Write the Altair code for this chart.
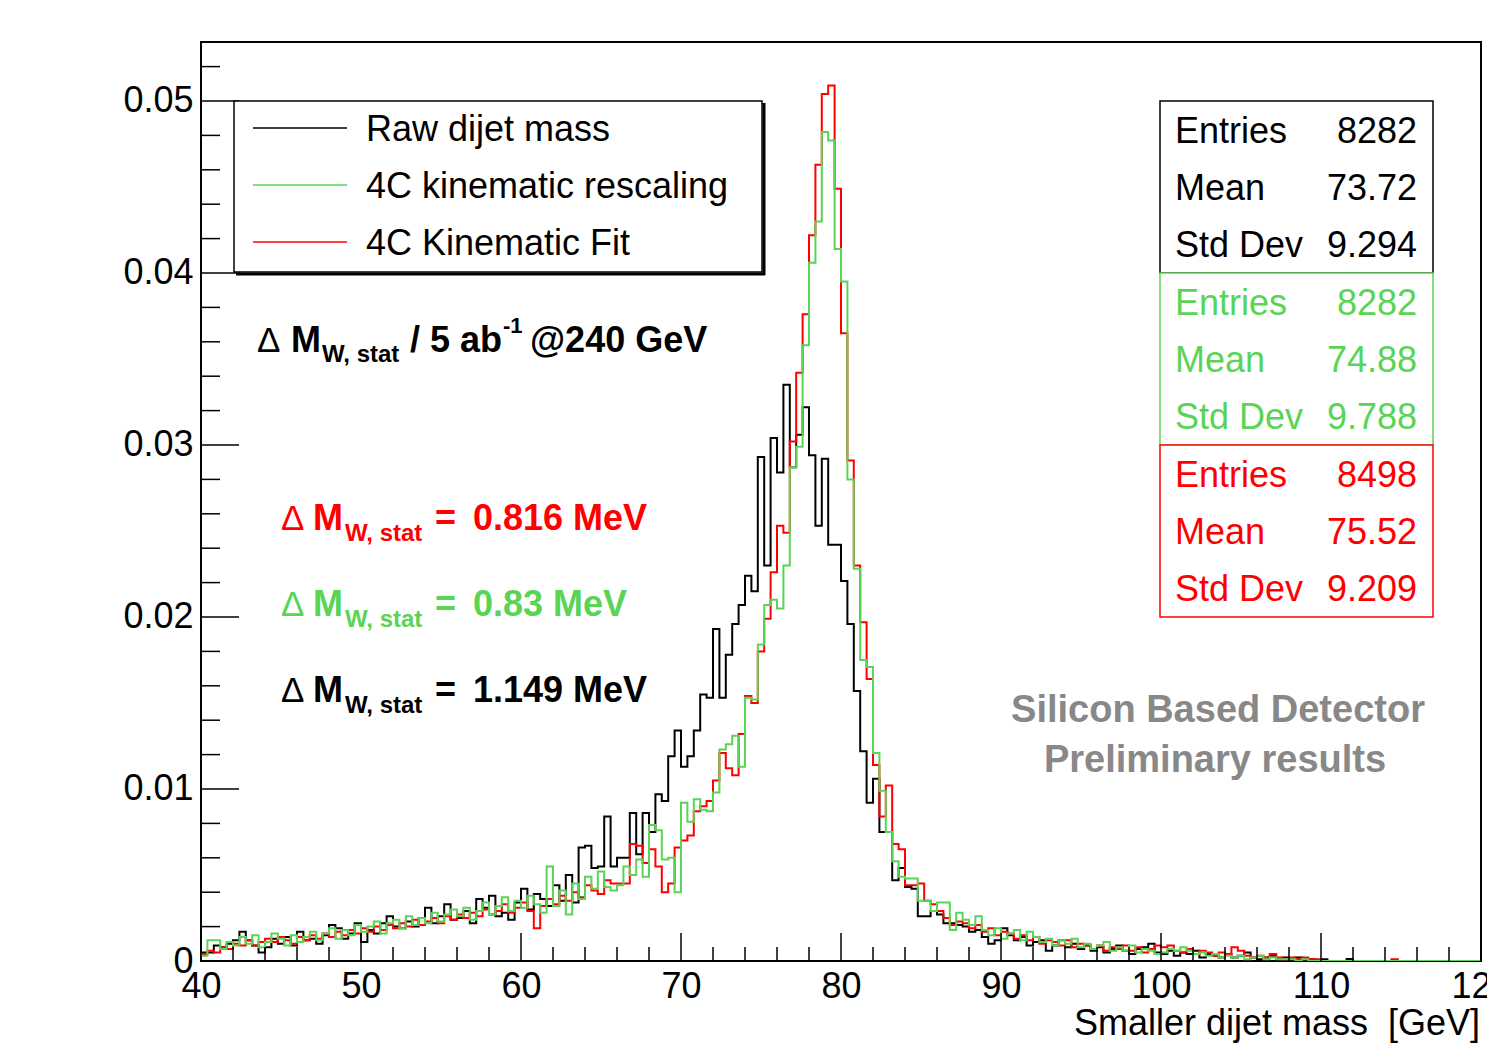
import altair as alt
import pandas as pd

# ---------------------------------------------------------------------------
# Histogram contents: smaller dijet mass, 200 bins of 0.4 GeV from 40 to 120 GeV
# (normalised bin contents)
# ---------------------------------------------------------------------------
X_MIN, X_MAX, N_BINS = 40.0, 120.0, 200

raw_mass = [
    # 40 - 44
    0.0005, 0.0005, 0.0009, 0.0008, 0.0010, 0.0012, 0.0017, 0.0012, 0.0009, 0.0005,
    # 44 - 48
    0.0008, 0.0013, 0.0010, 0.0014, 0.0009, 0.0017, 0.0012, 0.0013, 0.0010, 0.0015,
    # 48 - 52
    0.0021, 0.0019, 0.0013, 0.0016, 0.0022, 0.0011, 0.0018, 0.0016, 0.0022, 0.0026,
    # 52 - 56
    0.0020, 0.0019, 0.0023, 0.0020, 0.0025, 0.0031, 0.0022, 0.0026, 0.0033, 0.0024,
    # 56 - 60
    0.0025, 0.0029, 0.0022, 0.0036, 0.0031, 0.0038, 0.0026, 0.0028, 0.0024, 0.0034,
    # 60 - 64.8
    0.0042, 0.0030, 0.0039, 0.0036, 0.0032, 0.0044, 0.0035, 0.0050, 0.0034, 0.0066,
    0.0067, 0.0054,
    # 64.8 - 69.2
    0.0055, 0.0084, 0.0055, 0.0060, 0.0060, 0.0086, 0.0062, 0.0086, 0.0075, 0.0097,
    0.0093,
    # 69.2 - 80
    0.0119, 0.0134, 0.0113, 0.0119, 0.0134, 0.0155, 0.0153, 0.0193, 0.0153, 0.0178,
    0.0196, 0.0207, 0.0224, 0.0215, 0.0293, 0.0230, 0.0304, 0.0284, 0.0335, 0.0287,
    0.0306, 0.0322, 0.0294, 0.0253, 0.0292, 0.0242, 0.0242,
    # 80 - 87.6
    0.0221, 0.0196, 0.0157, 0.0122, 0.0092, 0.0106, 0.0075, 0.0075, 0.0047, 0.0054,
    0.0043, 0.0042, 0.0026, 0.0026, 0.0029, 0.0027, 0.0022, 0.0022, 0.0021,
    # 87.6 - 100
    0.0020, 0.0017, 0.0018, 0.0014, 0.0010, 0.0012, 0.0019, 0.0015, 0.0012, 0.0014,
    0.0009, 0.0011, 0.0012, 0.0006, 0.0009, 0.0012, 0.0008, 0.0010, 0.0007, 0.0009,
    0.0006, 0.0008, 0.0005, 0.0007, 0.0009, 0.0006, 0.0004, 0.0007, 0.0008, 0.0010,
    0.0005,
    # 100 - 110.4
    0.0004, 0.0006, 0.0003, 0.0005, 0.0004, 0.0006, 0.0002, 0.0004, 0.0003, 0.0002,
    0.0004, 0.0002, 0.0003, 0.0005, 0.0002, 0.0001, 0.0002, 0.0003, 0.0001, 0.0002,
    0.0001, 0.0002, 0.0001, 0.0001, 0.0000, 0.0001,
    # 110.4 - 120
    0.0, 0.0, 0.0, 0.00012, 0.0, 0.0, 0.0, 0.0, 0.0, 0.0,
    0.0, 0.0, 0.0, 0.0, 0.0, 0.0, 0.0, 0.0, 0.0, 0.0,
    0.0, 0.0, 0.0, 0.0,
]

rescaled_mass = [
    0.0003, 0.0012, 0.0012, 0.0007, 0.0011, 0.0009, 0.0014, 0.0010, 0.0015, 0.0008,
    0.0011, 0.0016, 0.0013, 0.0009, 0.0015, 0.0011, 0.0014, 0.0017, 0.0012, 0.0016,
    0.0019, 0.0013, 0.0018, 0.0015, 0.0021, 0.0017, 0.0020, 0.0023, 0.0016, 0.0022,
    0.0024, 0.0019, 0.0026, 0.0021, 0.0025, 0.0022, 0.0028, 0.0023, 0.0027, 0.0030,
    0.0026, 0.0031, 0.0024, 0.0029, 0.0034, 0.0027, 0.0032, 0.0037, 0.0029, 0.0035,
    0.0031, 0.0038, 0.0033, 0.0028, 0.0055, 0.0032, 0.0041, 0.0027, 0.0045, 0.0036,
    0.0049, 0.0042,
    0.0052, 0.0043, 0.0041, 0.0044, 0.0055, 0.0050, 0.0059, 0.0049, 0.0079, 0.0076,
    0.0059,
    0.0060, 0.0040, 0.0092, 0.0081, 0.0094, 0.0088, 0.0087, 0.0098, 0.0123, 0.0126,
    0.0131, 0.0113, 0.0153, 0.0152, 0.0184, 0.0207, 0.0210, 0.0205, 0.0230, 0.0287,
    0.0299, 0.0358, 0.0406, 0.0430, 0.0482, 0.0477, 0.0414,
    0.0395, 0.0280, 0.0228, 0.0175, 0.0171, 0.0121, 0.0099, 0.0075, 0.0058, 0.0049,
    0.0048, 0.0048, 0.0035, 0.0035, 0.0029, 0.0034, 0.0034, 0.0018, 0.0028,
    0.0024, 0.0021, 0.0026, 0.0018, 0.0015, 0.0019, 0.0013, 0.0016, 0.0018, 0.0012,
    0.0017, 0.0014, 0.0011, 0.0013, 0.0009, 0.0012, 0.0010, 0.0013, 0.0008, 0.0010,
    0.0007, 0.0009, 0.0011, 0.0006, 0.0008, 0.0006, 0.0009, 0.0005, 0.0007, 0.0006,
    0.0004,
    0.0005, 0.0007, 0.0006, 0.0008, 0.0006, 0.0004, 0.0005, 0.0003, 0.0004, 0.0002,
    0.0003, 0.0002, 0.0003, 0.0001, 0.0002, 0.0003, 0.0001, 0.0002, 0.0001, 0.0001,
    0.0001, 0.0000, 0.0001, 0.0000, 0.0000, 0.0000,
    0.0, 0.0, 0.0, 0.0, 0.0, 0.0, 0.0, 0.0, 0.0, 0.0,
    0.0, 0.0, 0.0, 0.0, 0.0, 0.0, 0.0, 0.0, 0.0, 0.0,
    0.0, 0.0, 0.0, 0.0,
]

fitted_mass = [
    0.0004, 0.0006, 0.0005, 0.0008, 0.0007, 0.0010, 0.0009, 0.0012, 0.0009, 0.0011,
    0.0013, 0.0011, 0.0014, 0.0012, 0.0010, 0.0014, 0.0012, 0.0015, 0.0013, 0.0016,
    0.0014, 0.0017, 0.0015, 0.0018, 0.0016, 0.0019, 0.0017, 0.0020, 0.0018, 0.0021,
    0.0019, 0.0022, 0.0020, 0.0024, 0.0021, 0.0023, 0.0025, 0.0022, 0.0026, 0.0024,
    0.0027, 0.0025, 0.0028, 0.0026, 0.0030, 0.0027, 0.0029, 0.0033, 0.0028, 0.0031,
    0.0034, 0.0029, 0.0019, 0.0032, 0.0036, 0.0033, 0.0038, 0.0035, 0.0040, 0.0037,
    0.0044, 0.0041,
    0.0039, 0.0047, 0.0045, 0.0045, 0.0045, 0.0068, 0.0067, 0.0057, 0.0065, 0.0055,
    0.0040,
    0.0045, 0.0066, 0.0070, 0.0073, 0.0087, 0.0090, 0.0093, 0.0105, 0.0121, 0.0112,
    0.0108, 0.0132, 0.0154, 0.0150, 0.0180, 0.0199, 0.0226, 0.0253, 0.0249, 0.0302,
    0.0342, 0.0376, 0.0422, 0.0463, 0.0504, 0.0509, 0.0449,
    0.0365, 0.0291, 0.0230, 0.0197, 0.0164, 0.0114, 0.0084, 0.0102, 0.0068, 0.0065,
    0.0044, 0.0044, 0.0045, 0.0035, 0.0033, 0.0029, 0.0025, 0.0021, 0.0023,
    0.0022, 0.0019, 0.0021, 0.0017, 0.0019, 0.0015, 0.0017, 0.0016, 0.0013, 0.0015,
    0.0012, 0.0014, 0.0010, 0.0012, 0.0011, 0.0009, 0.0012, 0.0008, 0.0010, 0.0009,
    0.0007, 0.0009, 0.0006, 0.0008, 0.0007, 0.0009, 0.0006, 0.0008, 0.0005, 0.0007,
    0.0009,
    0.0008, 0.0009, 0.0006, 0.0005, 0.0007, 0.0004, 0.0006, 0.0005, 0.0003, 0.0005,
    0.0004, 0.0008, 0.0006, 0.0003, 0.0002, 0.0003, 0.0002, 0.0004, 0.0002, 0.0001,
    0.0002, 0.0001, 0.0002, 0.0001, 0.0001, 0.0000,
    0.0, 0.0, 0.0, 0.0, 0.0, 0.0, 0.0, 0.0, 0.0, 0.0,
    0.0001, 0.0, 0.0, 0.0, 0.0, 0.0, 0.0, 0.0, 0.0, 0.0,
    0.0, 0.0, 0.0, 0.0,
]

series_names = ["Raw dijet mass", "4C kinematic rescaling", "4C Kinematic Fit"]
series_colors = ["#000000", "#59D454", "#FF0000"]

# statistics boxes: (entries, mean, std dev) per series
stat_entries = ["8282", "8282", "8498"]
stat_means = ["73.72", "74.88", "75.52"]
stat_stddevs = ["9.294", "9.788", "9.209"]

# resolution annotations
delta_values = ["0.816 MeV", "0.83 MeV", "1.149 MeV"]
delta_colors = ["#FF0000", "#59D454", "#000000"]

# axis ticks
x_major = [40, 50, 60, 70, 80, 90, 100, 110, 120]
x_minor = [v for v in range(40, 121, 2) if v % 10 != 0]
y_major = [0.0, 0.01, 0.02, 0.03, 0.04, 0.05]
y_minor = [round(0.002 * i, 3) for i in range(0, 27) if i % 5 != 0]

Y_MAX = 0.05343
W, H = 1280, 919
FONT = "Liberation Sans"
NBSP = "\u00a0"

x_scale = alt.Scale(domain=[X_MIN, X_MAX], nice=False, zero=False)
y_scale = alt.Scale(domain=[0, Y_MAX], nice=False, zero=True)


def hist_frame(values, name):
    bin_w = (X_MAX - X_MIN) / N_BINS
    edges = [X_MIN + bin_w * i for i in range(N_BINS)] + [X_MAX]
    vals = list(values) + [values[-1]]
    return pd.DataFrame({"mass": edges, "content": vals, "series": name})


def hist_layer(values, name, color):
    return alt.Chart(hist_frame(values, name)).mark_line(
        interpolate="step-after", color=color, strokeWidth=2, clip=True
    ).encode(
        x=alt.X("mass:Q", scale=x_scale,
                axis=alt.Axis(values=x_major, format="d", ticks=False, domain=False,
                              grid=False, labelFont=FONT, labelFontSize=36,
                              labelColor="#000", labelPadding=8, title=None,
                              labelFlush=False, labelOverlap=False)),
        y=alt.Y("content:Q", scale=y_scale,
                axis=alt.Axis(values=y_major, ticks=False, domain=False, grid=False,
                              labelExpr="datum.value == 0 ? '0' : format(datum.value, '.2f')",
                              labelFont=FONT, labelFontSize=36, labelColor="#000",
                              labelPadding=8, title=None, labelFlush=False,
                              labelOverlap=False)),
    )


one = pd.DataFrame({"k": [0]})


def text_at(text, x, y, size, color="#000", bold=False, align="left",
            baseline="alphabetic"):
    return alt.Chart(one).mark_text(
        text=text, font=FONT, fontSize=size, color=color,
        fontWeight="bold" if bold else "normal", align=align, baseline=baseline,
    ).encode(x=alt.value(x), y=alt.value(y))


def box(x1, y1, x2, y2, color, width=1.5):
    return alt.Chart(one).mark_rect(
        fill="white", stroke=color, strokeWidth=width
    ).encode(x=alt.value(x1), x2=alt.value(x2), y=alt.value(y1), y2=alt.value(y2))


def hline(x1, x2, y, color, width=2):
    return alt.Chart(one).mark_rule(color=color, strokeWidth=width).encode(
        x=alt.value(x1), x2=alt.value(x2), y=alt.value(y))


def vline(x, y1, y2, color, width=2):
    return alt.Chart(one).mark_rule(color=color, strokeWidth=width).encode(
        x=alt.value(x), y=alt.value(y1), y2=alt.value(y2))


layers = []

# histograms
layers.append(hist_layer(raw_mass, series_names[0], series_colors[0]))
layers.append(hist_layer(fitted_mass, series_names[2], series_colors[2]))
layers.append(hist_layer(rescaled_mass, series_names[1], series_colors[1]))

# inward-pointing ticks (ROOT style)
tick_color = "#000"
layers.append(alt.Chart(pd.DataFrame({"v": y_major})).mark_rule(color=tick_color, strokeWidth=1.5)
              .encode(y=alt.Y("v:Q", scale=y_scale), x=alt.value(0), x2=alt.value(38)))
layers.append(alt.Chart(pd.DataFrame({"v": y_minor})).mark_rule(color=tick_color, strokeWidth=1.5)
              .encode(y=alt.Y("v:Q", scale=y_scale), x=alt.value(0), x2=alt.value(19)))
layers.append(alt.Chart(pd.DataFrame({"v": x_major})).mark_rule(color=tick_color, strokeWidth=1.5)
              .encode(x=alt.X("v:Q", scale=x_scale), y=alt.value(H), y2=alt.value(H - 28)))
layers.append(alt.Chart(pd.DataFrame({"v": x_minor})).mark_rule(color=tick_color, strokeWidth=1.5)
              .encode(x=alt.X("v:Q", scale=x_scale), y=alt.value(H), y2=alt.value(H - 14)))

# legend box with shadow
layers.append(vline(563, 61, 233, "#000", 3))
layers.append(hline(35, 564, 232, "#000", 3))
layers.append(box(33, 59, 561, 230, "#000", 1.5))
legend_rows = [86, 143, 200]
for name, color, yy in zip(series_names, series_colors, legend_rows):
    layers.append(hline(52, 146, yy, color, 1.5))
    layers.append(text_at(name, 165, yy + 13, 36, "#000"))

# statistics boxes
box_tops = [59, 231, 403]
for i in range(3):
    top = box_tops[i]
    color = series_colors[i]
    layers.append(box(959, top, 1232, top + 172, color, 1.5))
    rows = [("Entries", stat_entries[i]), ("Mean", stat_means[i]), ("Std Dev", stat_stddevs[i])]
    for j, (lab, val) in enumerate(rows):
        yy = top + 29 + 57 * j + 13
        layers.append(text_at(lab, 974, yy, 36, color))
        layers.append(text_at(val, 1216, yy, 36, color, align="right"))

# luminosity annotation
layers.append(text_at("\u0394", 56, 310, 35, "#000"))
layers.append(text_at("M", 90, 310, 36, "#000", bold=True))
layers.append(text_at("W, stat", 121, 320, 24, "#000", bold=True))
layers.append(text_at("/ 5 ab", 209, 310, 36, "#000", bold=True))
layers.append(text_at("-1", 302, 291, 22, "#000", bold=True))
layers.append(text_at("@240 GeV", 329, 310, 36, "#000", bold=True))

# resolution annotations
for val, color, base in zip(delta_values, delta_colors, [488, 574, 660]):
    layers.append(text_at("\u0394", 80, base, 35, color))
    layers.append(text_at("M", 112, base, 36, color, bold=True))
    layers.append(text_at("W, stat", 144, base + 11, 24, color, bold=True))
    layers.append(text_at("=", 234, base, 36, color, bold=True))
    layers.append(text_at(val, 272, base, 36, color, bold=True))

# watermark
layers.append(text_at("Silicon Based Detector", 1017, 680, 38, "#888888", bold=True, align="center"))
layers.append(text_at("Preliminary results", 1014, 730, 38, "#888888", bold=True, align="center"))

# x-axis title
layers.append(text_at("Smaller dijet mass" + NBSP + NBSP + "[GeV]", 1279, 993, 36, "#000",
                      align="right"))

chart = alt.layer(*layers).properties(
    width=W, height=H,
    autosize=alt.AutoSizeParams(type="none"),
    padding={"left": 201, "top": 42, "right": 6, "bottom": 82},
    background="white",
).configure_view(stroke="#000", strokeWidth=2)

chart.save("out.html", embed_options={"renderer": "svg", "actions": False})
